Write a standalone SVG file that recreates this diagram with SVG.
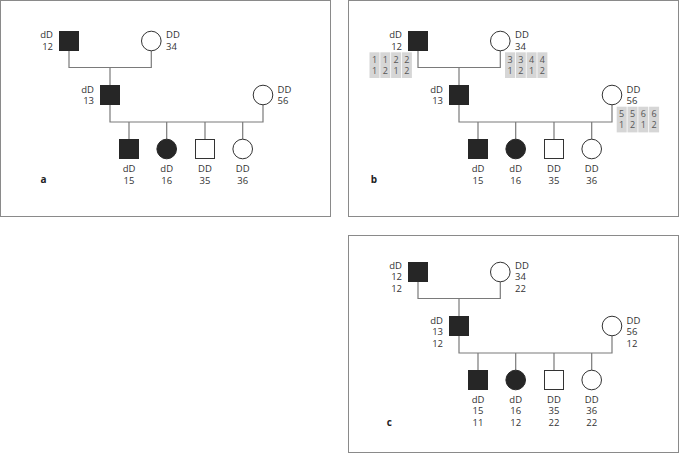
<svg xmlns="http://www.w3.org/2000/svg" width="680" height="454" viewBox="0 0 680 454">
<style>
.frame{fill:#fff;stroke:#8a8a8a;stroke-width:1}
.aff{fill:#262626;stroke:#262626;stroke-width:1}
.un{fill:#fff;stroke:#333;stroke-width:1}
.ln{fill:none;stroke:#7a7a7a;stroke-width:1.2}
text{font-family:"Open Sans","Noto Sans",sans-serif;font-size:9.5px;fill:#333}
.r{text-anchor:end}
.m{text-anchor:middle}
.lab{font-weight:bold;font-size:10px;fill:#222}
.box{fill:#d6d6d6}
.dg{text-anchor:middle;fill:#555;font-size:9px}
</style>
<rect width="680" height="454" fill="#fff"/>

<!-- Panel a -->
<g id="panel-a">
<rect class="frame" x="0.5" y="0.5" width="330" height="216"/>
<g id="a-connectors">
<path class="ln" d="M69,50.5 V67.5 H151.3 V50.8"/>
<path class="ln" d="M110,67.5 V85.5"/>
<path class="ln" d="M110,104.5 V122 H263 V104.8"/>
<path class="ln" d="M129,122 V139.5 M166.7,122 V139.2 M205,122 V139.5 M242.7,122 V139.2"/>
</g>
<g id="a-12"><rect class="aff" x="59.5" y="31.5" width="19" height="19"/><text class="r" x="53" y="38">dD</text><text class="r" x="53" y="49.5">12</text></g>
<g id="a-34"><circle class="un" cx="151.3" cy="41" r="9.8"/><text x="166" y="38">DD</text><text x="166" y="49.5">34</text></g>
<g id="a-13"><rect class="aff" x="100.5" y="85.5" width="19" height="19"/><text class="r" x="94" y="92.5">dD</text><text class="r" x="94" y="104">13</text></g>
<g id="a-56"><circle class="un" cx="263" cy="95" r="9.8"/><text x="277.5" y="92.5">DD</text><text x="277.5" y="104">56</text></g>
<g id="a-15"><rect class="aff" x="119.5" y="139.5" width="19" height="19"/><text class="m" x="129" y="172">dD</text><text class="m" x="129" y="183.5">15</text></g>
<g id="a-16"><circle class="aff" cx="166.7" cy="149" r="9.8"/><text class="m" x="166.7" y="172">dD</text><text class="m" x="166.7" y="183.5">16</text></g>
<g id="a-35"><rect class="un" x="195.5" y="139.5" width="19" height="19"/><text class="m" x="205" y="172">DD</text><text class="m" x="205" y="183.5">35</text></g>
<g id="a-36"><circle class="un" cx="242.7" cy="149" r="9.8"/><text class="m" x="242.7" y="172">DD</text><text class="m" x="242.7" y="183.5">36</text></g>
<text class="lab" x="40.5" y="182.7">a</text>
</g>

<!-- Panel b -->
<g id="panel-b">
<rect class="frame" x="348.5" y="0.5" width="330" height="216"/>
<g id="b-connectors" transform="translate(349,0)">
<path class="ln" d="M69,50.5 V67.5 H151.3 V50.8"/>
<path class="ln" d="M110,67.5 V85.5"/>
<path class="ln" d="M110,104.5 V122 H263 V104.8"/>
<path class="ln" d="M129,122 V139.5 M166.7,122 V139.2 M205,122 V139.5 M242.7,122 V139.2"/>
</g>
<g transform="translate(349,0)">
<g id="b-12"><rect class="aff" x="59.5" y="31.5" width="19" height="19"/><text class="r" x="53" y="38">dD</text><text class="r" x="53" y="49.5">12</text></g>
<g id="b-34"><circle class="un" cx="151.3" cy="41" r="9.8"/><text x="166" y="38">DD</text><text x="166" y="49.5">34</text></g>
<g id="b-13"><rect class="aff" x="100.5" y="85.5" width="19" height="19"/><text class="r" x="94" y="92.5">dD</text><text class="r" x="94" y="104">13</text></g>
<g id="b-56"><circle class="un" cx="263" cy="95" r="9.8"/><text x="277.5" y="92.5">DD</text><text x="277.5" y="104">56</text></g>
<g id="b-15"><rect class="aff" x="119.5" y="139.5" width="19" height="19"/><text class="m" x="129" y="172">dD</text><text class="m" x="129" y="183.5">15</text></g>
<g id="b-16"><circle class="aff" cx="166.7" cy="149" r="9.8"/><text class="m" x="166.7" y="172">dD</text><text class="m" x="166.7" y="183.5">16</text></g>
<g id="b-35"><rect class="un" x="195.5" y="139.5" width="19" height="19"/><text class="m" x="205" y="172">DD</text><text class="m" x="205" y="183.5">35</text></g>
<g id="b-36"><circle class="un" cx="242.7" cy="149" r="9.8"/><text class="m" x="242.7" y="172">DD</text><text class="m" x="242.7" y="183.5">36</text></g>
</g>
<g id="b-hap-12">
<rect class="box" x="369.5" y="52.3" width="10" height="25.7"/>
<rect class="box" x="380.3" y="52.3" width="10" height="25.7"/>
<rect class="box" x="391.1" y="52.3" width="10" height="25.7"/>
<rect class="box" x="401.9" y="52.3" width="10" height="25.7"/>
<text class="dg" x="374.5" y="62.5">1</text><text class="dg" x="385.3" y="62.5">1</text><text class="dg" x="396.1" y="62.5">2</text><text class="dg" x="406.9" y="62.5">2</text>
<text class="dg" x="374.5" y="74">1</text><text class="dg" x="385.3" y="74">2</text><text class="dg" x="396.1" y="74">1</text><text class="dg" x="406.9" y="74">2</text>
</g>
<g id="b-hap-34">
<rect class="box" x="505" y="52.3" width="10" height="25.7"/>
<rect class="box" x="515.8" y="52.3" width="10" height="25.7"/>
<rect class="box" x="526.6" y="52.3" width="10" height="25.7"/>
<rect class="box" x="537.4" y="52.3" width="10" height="25.7"/>
<text class="dg" x="510" y="62.5">3</text><text class="dg" x="520.8" y="62.5">3</text><text class="dg" x="531.6" y="62.5">4</text><text class="dg" x="542.4" y="62.5">4</text>
<text class="dg" x="510" y="74">1</text><text class="dg" x="520.8" y="74">2</text><text class="dg" x="531.6" y="74">1</text><text class="dg" x="542.4" y="74">2</text>
</g>
<g id="b-hap-56">
<rect class="box" x="616.7" y="106.7" width="10" height="25.7"/>
<rect class="box" x="627.5" y="106.7" width="10" height="25.7"/>
<rect class="box" x="638.3" y="106.7" width="10" height="25.7"/>
<rect class="box" x="649.1" y="106.7" width="10" height="25.7"/>
<text class="dg" x="621.7" y="116.9">5</text><text class="dg" x="632.5" y="116.9">5</text><text class="dg" x="643.3" y="116.9">6</text><text class="dg" x="654.1" y="116.9">6</text>
<text class="dg" x="621.7" y="128.4">1</text><text class="dg" x="632.5" y="128.4">2</text><text class="dg" x="643.3" y="128.4">1</text><text class="dg" x="654.1" y="128.4">2</text>
</g>
<text class="lab" x="370.7" y="182.7">b</text>
</g>

<!-- Panel c -->
<g id="panel-c">
<rect class="frame" x="348.5" y="235.5" width="330" height="217"/>
<g id="c-connectors" transform="translate(349,231)">
<path class="ln" d="M69,50.5 V67.5 H151.3 V50.8"/>
<path class="ln" d="M110,67.5 V85.5"/>
<path class="ln" d="M110,104.5 V122 H263 V104.8"/>
<path class="ln" d="M129,122 V139.5 M166.7,122 V139.2 M205,122 V139.5 M242.7,122 V139.2"/>
</g>
<g transform="translate(349,231)">
<g id="c-12"><rect class="aff" x="59.5" y="31.5" width="19" height="19"/><text class="r" x="53" y="37.5">dD</text><text class="r" x="53" y="49">12</text><text class="r" x="53" y="60.7">12</text></g>
<g id="c-34"><circle class="un" cx="151.3" cy="41" r="9.8"/><text x="166" y="37.5">DD</text><text x="166" y="49">34</text><text x="166" y="60.7">22</text></g>
<g id="c-13"><rect class="aff" x="100.5" y="85.5" width="19" height="19"/><text class="r" x="94" y="92.5">dD</text><text class="r" x="94" y="104">13</text><text class="r" x="94" y="115.7">12</text></g>
<g id="c-56"><circle class="un" cx="263" cy="95" r="9.8"/><text x="277.5" y="92.5">DD</text><text x="277.5" y="104">56</text><text x="277.5" y="115.7">12</text></g>
<g id="c-15"><rect class="aff" x="119.5" y="139.5" width="19" height="19"/><text class="m" x="129" y="171.7">dD</text><text class="m" x="129" y="183.3">15</text><text class="m" x="129" y="195">11</text></g>
<g id="c-16"><circle class="aff" cx="166.7" cy="149" r="9.8"/><text class="m" x="166.7" y="171.7">dD</text><text class="m" x="166.7" y="183.3">16</text><text class="m" x="166.7" y="195">12</text></g>
<g id="c-35"><rect class="un" x="195.5" y="139.5" width="19" height="19"/><text class="m" x="205" y="171.7">DD</text><text class="m" x="205" y="183.3">35</text><text class="m" x="205" y="195">22</text></g>
<g id="c-36"><circle class="un" cx="242.7" cy="149" r="9.8"/><text class="m" x="242.7" y="171.7">DD</text><text class="m" x="242.7" y="183.3">36</text><text class="m" x="242.7" y="195">22</text></g>
</g>
<text class="lab" x="386.7" y="426">c</text>
</g>
</svg>
